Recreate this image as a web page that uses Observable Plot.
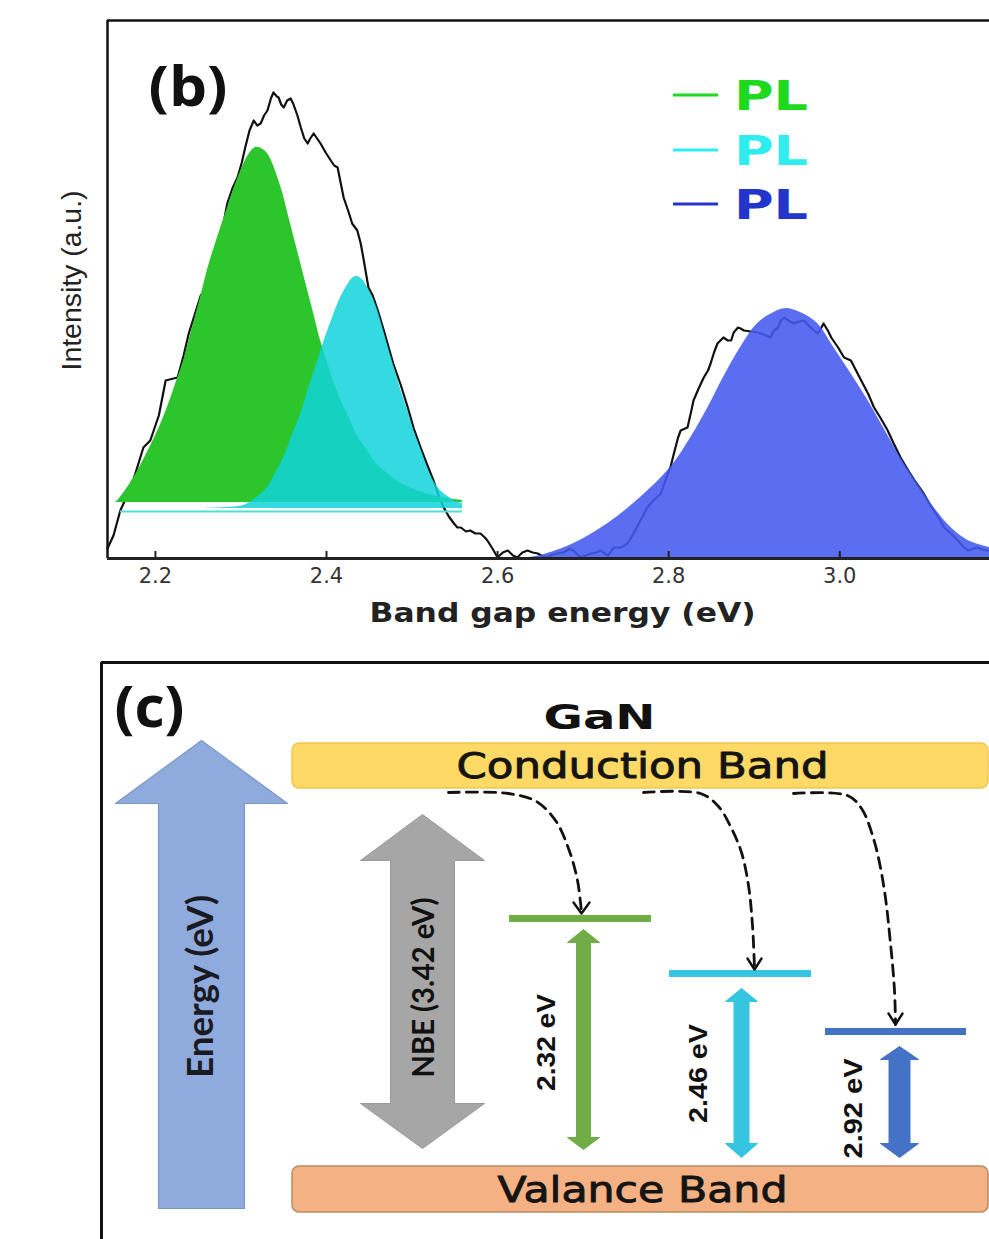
<!DOCTYPE html>
<html><head><meta charset="utf-8">
<script src="https://cdn.jsdelivr.net/npm/d3@7"></script>
<script src="https://cdn.jsdelivr.net/npm/@observablehq/plot@0.6"></script>
<style>
html,body{margin:0;padding:0;background:#fff;}
#wrap{width:989px;height:1239px;overflow:hidden;position:relative;background:#fff;}
#wrap svg{display:block;}
</style></head><body><div id="wrap"></div>
<script>
// ================= Panel (b) data =================
const spectrumEnergy = [2.144,2.151,2.159,2.167,2.174,2.186,2.194,2.204,2.212,2.226,
2.233,2.239,2.253,2.261,2.270,2.277,2.284,2.290,2.296,2.301,
2.305,2.310,2.315,2.319,2.323,2.327,2.331,2.335,2.338,2.342,
2.344,2.347,2.350,2.354,2.358,2.361,2.366,2.370,2.374,2.378,
2.381,2.385,2.389,2.393,2.399,2.405,2.409,2.413,2.416,2.420,
2.426,2.430,2.436,2.440,2.443,2.449,2.454,2.460,2.467,2.473,
2.478,2.487,2.495,2.502,2.510,2.518,2.525,2.531,2.537,2.543,
2.549,2.553,2.557,2.563,2.568,2.574,2.580,2.585,2.588,2.594,
2.600,2.606,2.612,2.618,2.623,2.629,2.635,2.641,2.647,2.653,
2.658,2.664,2.670,2.677,2.685,2.691,2.697,2.703,2.709,2.715,
2.720,2.729,2.736,2.744,2.752,2.759,2.767,2.775,2.782,2.791,
2.796,2.802,2.807,2.811,2.814,2.822,2.826,2.829,2.835,2.841,
2.846,2.849,2.853,2.857,2.864,2.869,2.873,2.876,2.881,2.884,
2.888,2.896,2.904,2.911,2.919,2.923,2.928,2.931,2.935,2.940,
2.946,2.952,2.958,2.966,2.974,2.978,2.981,2.986,2.990,2.998,
3.005,3.013,3.019,3.025,3.033,3.040,3.048,3.056,3.063,3.071,
3.080,3.089,3.098,3.104,3.110,3.116,3.122,3.130,3.138,3.144,
3.150,3.156,3.161,3.167,3.173];
const spectrumIntensity = [10,23,48,63,78,111,118,143,178,181,
203,225,263,273,295,323,355,370,381,396,
411,428,438,433,435,443,448,460,466,462,
461,454,451,458,460,455,443,431,420,415,
420,425,420,415,406,398,393,391,378,361,
346,335,328,315,301,271,263,248,228,210,
195,173,151,130,111,93,78,63,51,42,
35,31,31,27,28,25,25,21,18,10,
1,6,8,3,1,6,8,6,5,2,
1,4,5,6,10,6,1,3,5,6,
8,3,11,11,15,25,38,51,58,65,
78,91,108,121,128,131,146,158,170,181,
188,195,206,215,221,218,218,226,231,230,
228,227,226,224,221,228,231,238,241,238,
235,237,238,231,225,230,235,228,221,211,
201,198,188,178,165,151,140,128,115,101,
88,76,65,56,48,40,31,25,18,12,
8,10,11,9,8];

const greenFitEnergy = [2.153,2.156,2.165,2.174,2.184,2.194,2.204,2.214,2.223,2.233,2.243,2.253,2.262,2.273,2.284,2.294,2.303,2.310,2.317,2.324,2.331,2.337,2.343,2.349,2.354,2.360,2.366,2.372,2.378,2.385,2.393,2.401,2.408,2.418,2.428,2.437,2.448,2.457,2.467,2.477,2.487,2.506,2.525,2.542,2.559];
const greenFitIntensity = [56,58,68,80,95,112,130,151,173,198,230,262,292,322,350,375,394,405,411,410,405,395,381,365,348,328,308,288,268,245,218,196,178,156,138,121,108,96,88,81,75,68,63,60,58];
const greenFitBase = 56;

const cyanFitEnergy = [2.253,2.282,2.303,2.317,2.331,2.340,2.350,2.360,2.370,2.379,2.389,2.399,2.408,2.416,2.425,2.430,2.436,2.442,2.448,2.454,2.460,2.467,2.475,2.481,2.487,2.495,2.502,2.510,2.518,2.525,2.533,2.542,2.549,2.554,2.559];
const cyanFitIntensity = [50,51,53,60,71,85,101,123,145,170,196,222,243,260,274,280,282,279,271,261,248,227,203,186,168,148,128,110,91,78,68,62,58,56,55];
const cyanFitBase = 50;
const fitBaselineLevel = 47;
const fitBaselineRange = [2.159, 2.559];

const blueFitEnergy = [2.627,2.650,2.689,2.729,2.767,2.802,2.826,2.846,2.864,2.884,2.904,2.923,2.937,2.954,2.974,2.993,3.013,3.033,3.051,3.071,3.091,3.110,3.130,3.150,3.175];
const blueFitIntensity = [0,3,15,35,61,91,121,151,181,211,235,246,250,246,235,211,185,158,131,101,75,51,31,18,11];

const xTicks = [2.2, 2.4, 2.6, 2.8, 3.0];
const xTickLabels = ["2.2", "2.4", "2.6", "2.8", "3.0"];
const xDomain = [2.144, 3.175];
const yDomain = [0, 538];
const xLabel = "Band gap energy (eV)";
const yLabel = "Intensity (a.u.)";
const panelBLabel = "(b)";
const legendLabels = ["PL", "PL", "PL"];
const legendColors = ["#1FD91F", "#2FEDEE", "#2236CC"];

// ================= Panel (c) data =================
const panelCLabel = "(c)";
const materialLabel = "GaN";
const bandLabels = ["Conduction Band", "Valance Band"];
const bandColors = ["#FFD966", "#F4B183"];
const bandStrokes = ["#EFC650", "#B98A66"];
const energyAxisLabel = "Energy (eV)";
const nbeLabel = "NBE (3.42 eV)";
const levelLabels = ["2.32 eV", "2.46 eV", "2.92 eV"];
const levelColors = ["#70AD47", "#35C5E0", "#4472C4"];

// ================= helpers =================
const spectrum = spectrumEnergy.map((e, i) => ({e, v: spectrumIntensity[i]}));
const greenFit = greenFitEnergy.map((e, i) => ({e, v: greenFitIntensity[i]}));
const cyanFit = cyanFitEnergy.map((e, i) => ({e, v: cyanFitIntensity[i]}));
const blueFit = blueFitEnergy.map((e, i) => ({e, v: blueFitIntensity[i]}));

function fitTexts(svg, lengths) {
  d3.select(svg).selectAll("text").each(function () {
    const t = this.textContent;
    if (lengths[t] != null) {
      this.setAttribute("textLength", lengths[t]);
      this.setAttribute("lengthAdjust", "spacingAndGlyphs");
    }
  });
}

// legend rendered as a function mark (style/layout only)
const legendLayout = {x0: 673, x1: 718, tx: 734, rows: [95, 150, 204]};
function legendMark() {
  const g = d3.create("svg:g");
  legendColors.forEach((c, i) => {
    const y = legendLayout.rows[i];
    g.append("line").attr("x1", legendLayout.x0).attr("x2", legendLayout.x1)
      .attr("y1", y).attr("y2", y).attr("stroke", c).attr("stroke-width", 3);
    g.append("text").attr("x", legendLayout.tx).attr("y", y).attr("dy", "0.37em")
      .attr("text-anchor", "start")
      .attr("fill", c).attr("font-family", "DejaVu Sans").attr("font-weight", "bold")
      .attr("font-size", 41).attr("textLength", 74).attr("lengthAdjust", "spacingAndGlyphs")
      .text(legendLabels[i]);
  });
  return g.node();
}

const pB = Plot.plot({
  width: 989, height: 650,
  marginLeft: 107, marginRight: 0, marginTop: 20, marginBottom: 92,
  x: {domain: xDomain, axis: null},
  y: {domain: yDomain, axis: null},
  style: {background: "#fff", overflow: "visible"},
  marks: [
    Plot.line(spectrum, {x: "e", y: "v", stroke: "#111", strokeWidth: 2.2}),
    Plot.areaY(greenFit, {x: "e", y1: () => greenFitBase, y2: "v", fill: "#2CC52C", curve: "catmull-rom"}),
    Plot.areaY(cyanFit, {x: "e", y1: () => cyanFitBase, y2: "v", fill: "#12D2DA", fillOpacity: 0.85, curve: "catmull-rom"}),
    Plot.ruleY([fitBaselineLevel], {x1: () => fitBaselineRange[0], x2: () => fitBaselineRange[1], stroke: "#4FE0D4", strokeWidth: 2.2}),
    Plot.areaY(blueFit, {x: "e", y: "v", fill: "#4459EE", fillOpacity: 0.88, curve: "catmull-rom"}),
    // frame (top, left) and bottom axis line
    Plot.ruleY([yDomain[1]], {stroke: "#111", strokeWidth: 2.5}),
    Plot.ruleX([xDomain[0]], {stroke: "#111", strokeWidth: 2.5}),
    Plot.ruleY([0], {stroke: "#222", strokeWidth: 3}),
    // inward ticks and labels
    Plot.ruleX(xTicks, {y1: () => 0, y2: () => 7, stroke: "#222", strokeWidth: 2}),
    Plot.text(xTicks, {x: d => d, text: (d, i) => xTickLabels[i], frameAnchor: "bottom", dy: 24,
      fontSize: 21, fontFamily: "DejaVu Sans", fill: "#333"}),
    Plot.text([xLabel], {text: d => d, frameAnchor: "bottom", dx: 14, dy: 63,
      fontSize: 26, fontWeight: "bold", fontFamily: "DejaVu Sans", fill: "#222"}),
    Plot.text([yLabel], {text: d => d, frameAnchor: "left", textAnchor: "middle", dx: -35, dy: -9, rotate: -90,
      fontSize: 27, fontFamily: "Liberation Sans", fill: "#222"}),
    Plot.text([panelBLabel], {text: d => d, frameAnchor: "top-left", dx: 41, dy: 46, textAnchor: "start",
      fontSize: 55, fontWeight: "bold", fontFamily: "Open Sans", fill: "#111"}),
    legendMark
  ]
});
fitTexts(pB, {[xLabel]: 386, [yLabel]: 180, [panelBLabel]: 79});

// ================= Panel (c) layout (schematic geometry) =================
function dblArrow(cx, top, bottom, headHalf, shaftHalf, headTop, headBottom) {
  return [[cx, top], [cx + headHalf, top + headTop], [cx + shaftHalf, top + headTop],
    [cx + shaftHalf, bottom - headBottom], [cx + headHalf, bottom - headBottom], [cx, bottom],
    [cx - headHalf, bottom - headBottom], [cx - shaftHalf, bottom - headBottom],
    [cx - shaftHalf, top + headTop], [cx - headHalf, top + headTop], [cx, top]];
}
function upArrow(cx, top, bottom, headHalf, shaftHalf, headLen) {
  return [[cx, top], [cx + headHalf, top + headLen], [cx + shaftHalf, top + headLen],
    [cx + shaftHalf, bottom], [cx - shaftHalf, bottom], [cx - shaftHalf, top + headLen],
    [cx - headHalf, top + headLen], [cx, top]];
}
const bands = [
  {x1: 292, x2: 988, y1: 743, y2: 788, tx: 642, ty: 766},
  {x1: 292, x2: 988, y1: 1166, y2: 1212, tx: 642, ty: 1190}
].map((b, i) => ({...b, label: bandLabels[i], fill: bandColors[i], stroke: bandStrokes[i]}));

const levels = [
  {x1: 509, x2: 651, y: 918, ax: 583, at: 929, ab: 1149, hh: 16, sh: 7, ht: 13, hb: 12, lx: 546, ly: 1042},
  {x1: 669, x2: 811, y: 973, ax: 741, at: 988, ab: 1157, hh: 16, sh: 7.5, ht: 13, hb: 14, lx: 698, ly: 1073},
  {x1: 825, x2: 966, y: 1031, ax: 899, at: 1046, ab: 1157, hh: 19, sh: 10.5, ht: 13, hb: 14, lx: 853, ly: 1108}
].map((l, i) => ({...l, label: levelLabels[i], color: levelColors[i]}));

const transitions = [
  [[448, 792], [508, 793], [536, 801], [555, 820], [568, 848], [577, 880], [581, 912]],
  [[643, 792], [700, 793], [718, 806], [731, 828], [741, 852], [748, 885], [752, 925], [754, 968]],
  [[793, 793], [847, 795], [861, 808], [873, 838], [883, 884], [890, 943], [894, 990], [895, 1024]]
];
const heads = [
  [[573, 902], [581, 913], [589, 902]],
  [[747, 958], [754, 969], [761, 958]],
  [[888, 1013], [895, 1024], [902, 1013]]
];

const energyArrow = upArrow(201, 740, 1208, 86, 43, 63);
const nbeArrow = dblArrow(422, 814, 1148, 62, 32, 46, 45);

const txt = (s, o) => Plot.text([s], {text: d => d, ...o});
const poly = (pts, o) => Plot.line(pts, {x: d => d[0], y: d => d[1], ...o});

const cMarks = [
  Plot.ruleX([101], {y1: () => 662, y2: () => 1239, stroke: "#111", strokeWidth: 3}),
  Plot.ruleY([662], {x1: () => 101, x2: () => 989, stroke: "#111", strokeWidth: 3}),
  poly(energyArrow, {fill: "#8FAADC", stroke: "#7C97C9", strokeWidth: 1.2, curve: "linear"}),
  poly(nbeArrow, {fill: "#A6A6A6", stroke: "#9A9A9A", strokeWidth: 1, curve: "linear"}),
  Plot.rect(bands, {x1: "x1", x2: "x2", y1: "y1", y2: "y2", fill: "fill", stroke: "stroke", strokeWidth: 1.5, rx: 7}),
  Plot.text(bands, {x: "tx", y: "ty", text: "label", fontSize: 36, fontFamily: "DejaVu Sans", fill: "#141414",
    stroke: "#141414", strokeWidth: 0.9}),
  Plot.ruleY(levels, {y: "y", x1: "x1", x2: "x2", stroke: "color", strokeWidth: 7}),
  ...levels.map(l => poly(dblArrow(l.ax, l.at, l.ab, l.hh, l.sh, l.ht, l.hb), {fill: l.color, stroke: l.color, strokeWidth: 1, curve: "linear"})),
  Plot.text(levels, {x: "lx", y: "ly", text: "label", rotate: -90, fontSize: 26, fontWeight: "bold", fontFamily: "Liberation Sans Narrow, Liberation Sans", fill: "#111"}),
  ...transitions.map(t => poly(t, {stroke: "#111", strokeWidth: 2.8, strokeDasharray: "11 7", curve: "catmull-rom"})),
  ...heads.map(h => poly(h, {stroke: "#111", strokeWidth: 2.4, curve: "linear"})),
  txt(panelCLabel, {x: () => 114, y: () => 708, textAnchor: "start", fontSize: 58, fontWeight: "bold", fontFamily: "Open Sans", fill: "#111"}),
  txt(materialLabel, {x: () => 599, y: () => 718, fontSize: 34, fontWeight: "bold", fontFamily: "DejaVu Sans", fill: "#111"}),
  txt(energyAxisLabel, {x: () => 201, y: () => 986, rotate: -90, fontSize: 36, fontWeight: "bold", fontFamily: "Lato", fill: "#1a1a22"}),
  txt(nbeLabel, {x: () => 424, y: () => 987, rotate: -90, fontSize: 30, fontWeight: "bold", fontFamily: "Lato", fill: "#111"})
];

const pC = Plot.plot({
  width: 989, height: 589, margin: 0,
  x: {type: "linear", domain: [0, 989], range: [0, 989], axis: null},
  y: {type: "linear", domain: [650, 1239], range: [0, 589], axis: null},
  color: {type: "identity"},
  style: {background: "#fff", overflow: "visible"},
  marks: cMarks
});
fitTexts(pC, {
  [panelCLabel]: 70, [materialLabel]: 112, [bandLabels[0]]: 372, [bandLabels[1]]: 290,
  [energyAxisLabel]: 183, [nbeLabel]: 180,
  [levelLabels[0]]: 97, [levelLabels[1]]: 99, [levelLabels[2]]: 100
});

const wrap = document.getElementById("wrap");
wrap.appendChild(pB);
wrap.appendChild(pC);
</script>
</body></html>
